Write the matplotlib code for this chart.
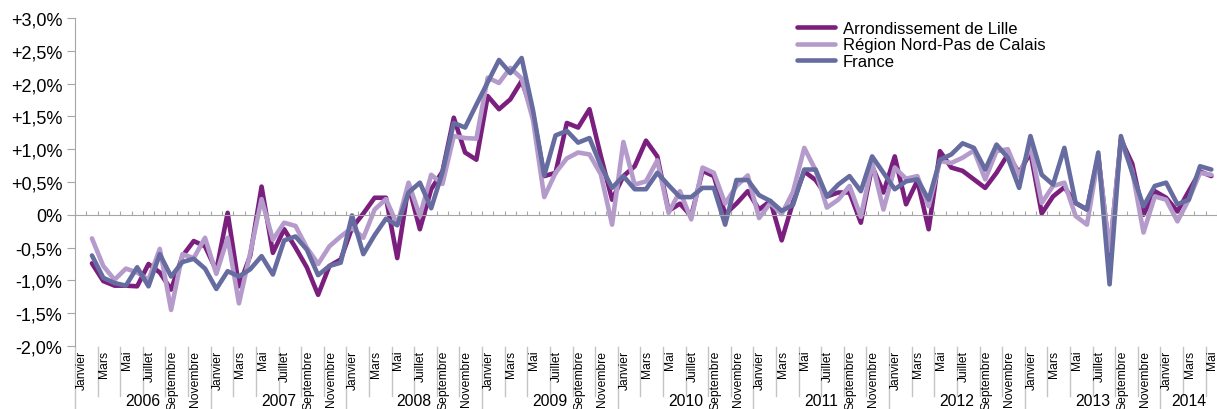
import numpy as np
import matplotlib

matplotlib.use("Agg")
import matplotlib.pyplot as plt
import matplotlib.transforms as mtransforms

# monthly change, Feb 2006 .. May 2014 (%)
lille = [-0.74, -1.01, -1.08, -1.08, -1.09, -0.75, -0.88, -1.14, -0.63, -0.40,
         -0.48, -0.85, 0.03, -1.09, -0.62, 0.43, -0.58, -0.22, -0.50, -0.80,
         -1.22, -0.78, -0.68, -0.20, 0.02, 0.26, 0.26, -0.66, 0.44, -0.22,
         0.39, 0.66, 1.48, 0.95, 0.84, 1.81, 1.61, 1.76, 2.04, 1.55,
         0.59, 0.64, 1.40, 1.33, 1.61, 0.90, 0.23, 0.59, 0.74, 1.13,
         0.89, 0.06, 0.17, -0.02, 0.67, 0.59, 0.01, 0.17, 0.36, 0.08,
         0.21, -0.39, 0.19, 0.66, 0.53, 0.28, 0.34, 0.34, -0.12, 0.74,
         0.34, 0.89, 0.16, 0.52, -0.22, 0.97, 0.72, 0.67, 0.54, 0.41,
         0.64, 0.92, 0.64, 0.95, 0.02, 0.28, 0.42, 0.18, 0.08, 0.90,
         -0.60, 1.15, 0.78, 0.00, 0.36, 0.26, 0.05, 0.36, 0.66, 0.59]
region = [-0.36, -0.78, -0.99, -0.82, -0.88, -0.99, -0.52, -1.45, -0.60, -0.66,
          -0.35, -0.90, -0.35, -1.35, -0.58, 0.24, -0.38, -0.12, -0.17, -0.50,
          -0.75, -0.48, -0.33, -0.20, -0.35, 0.08, 0.24, -0.15, 0.49, -0.02,
          0.61, 0.47, 1.20, 1.17, 1.16, 2.09, 2.01, 2.24, 2.08, 1.45,
          0.27, 0.64, 0.86, 0.95, 0.92, 0.62, -0.15, 1.11, 0.46, 0.51,
          0.83, 0.03, 0.36, -0.07, 0.72, 0.64, 0.17, 0.44, 0.60, -0.05,
          0.18, 0.01, 0.35, 1.02, 0.68, 0.11, 0.23, 0.44, -0.03, 0.79,
          0.08, 0.72, 0.55, 0.59, 0.13, 0.82, 0.79, 0.87, 0.98, 0.54,
          0.97, 1.00, 0.59, 1.05, 0.18, 0.44, 0.49, -0.02, -0.15, 0.87,
          -0.55, 1.12, 0.67, -0.27, 0.28, 0.23, -0.10, 0.23, 0.64, 0.61]
france = [-0.62, -0.96, -1.04, -1.08, -0.80, -1.09, -0.60, -0.94, -0.72, -0.67,
          -0.82, -1.13, -0.86, -0.94, -0.83, -0.63, -0.91, -0.39, -0.33, -0.53,
          -0.92, -0.78, -0.73, -0.01, -0.60, -0.31, -0.06, -0.16, 0.34, 0.49,
          0.10, 0.65, 1.40, 1.33, 1.68, 2.02, 2.36, 2.16, 2.39, 1.60,
          0.60, 1.21, 1.28, 1.10, 1.17, 0.75, 0.41, 0.59, 0.39, 0.39,
          0.64, 0.45, 0.27, 0.27, 0.41, 0.41, -0.15, 0.53, 0.53, 0.30,
          0.21, 0.06, 0.15, 0.69, 0.69, 0.28, 0.46, 0.59, 0.36, 0.89,
          0.64, 0.39, 0.51, 0.54, 0.23, 0.84, 0.92, 1.09, 1.02, 0.69,
          1.07, 0.87, 0.41, 1.20, 0.61, 0.46, 1.02, 0.18, 0.08, 0.95,
          -1.06, 1.20, 0.64, 0.13, 0.44, 0.49, 0.16, 0.23, 0.74, 0.69]

series_names = ["Arrondissement de Lille", "Région Nord-Pas de Calais", "France"]
years = [2006, 2007, 2008, 2009, 2010, 2011, 2012, 2013, 2014]
month_labels = ["Janvier", "Mars", "Mai", "Juillet", "Septembre", "Novembre"]
y_ticks = [-2.0, -1.5, -1.0, -0.5, 0.0, 0.5, 1.0, 1.5, 2.0, 2.5, 3.0]
y_ticklabels = ["-2,0%", "-1,5%", "-1,0%", "-0,5%", "0%", "+0,5%", "+1,0%",
                "+1,5%", "+2,0%", "+2,5%", "+3,0%"]

colors = ["#7b1f7f", "#b59bcb", "#666ca0"]
GRID = "#a6a6a6"
SEP = "#c4c4c4"
N_MONTHS = 101  # Jan 2006 .. May 2014 inclusive

plt.rcParams["font.family"] = ["Liberation Sans", "DejaVu Sans"]

fig = plt.figure(figsize=(12.17, 4.10), dpi=100)
W, H = 1217, 410
ax = fig.add_axes([75 / W, 1 - 347 / H, 1 - 75 / W, (347 - 19) / H])

x = np.arange(1, len(lille) + 1) + 0.5
for vals, col, name in zip([lille, region, france], colors, series_names):
    ax.plot(x, vals, color=col, lw=3.3, label=name,
            solid_joinstyle="round", solid_capstyle="round")

ax.set_xlim(0, N_MONTHS)
ax.set_ylim(-2.0, 3.0)
ax.set_yticks(y_ticks, y_ticklabels)
ax.tick_params(axis="y", length=6, color=GRID, pad=3, labelsize=13)

# category axis sits on the zero line, monthly ticks pointing up
ax.spines["bottom"].set_position(("data", 0))
ax.spines["bottom"].set_color(GRID)
ax.spines["left"].set_color(GRID)
for s in ["top", "right"]:
    ax.spines[s].set_visible(False)
ax.set_xticks(np.arange(0, N_MONTHS + 1))
ax.tick_params(axis="x", direction="in", length=3, color=GRID, labelbottom=False)

# month / year labels under the plot area
trans = mtransforms.blended_transform_factory(ax.transData, ax.transAxes)
for k in range(0, N_MONTHS, 2):
    yr, m = divmod(k, 12)
    ax.text(k + 0.6, -0.011, month_labels[m // 2], rotation=90, ha="center",
            va="top", fontsize=8.7, transform=trans, clip_on=False)
for k in range(0, N_MONTHS + 1, 2):
    bottom = -0.2 if k % 12 == 0 else -0.153
    top = 0 if k == 0 else -0.004
    ax.plot([k, k], [top, bottom], color=SEP, lw=1.0, transform=trans, clip_on=False)
for j, yr in enumerate(years):
    start = j * 12
    end = min(start + 12, N_MONTHS)
    ax.text((start + end) / 2, -0.19, str(yr), ha="center", va="bottom",
            fontsize=11.3, transform=trans, clip_on=False)

leg = ax.legend(loc="upper left", bbox_to_anchor=(797 / W, 1 - 22 / H),
                bbox_transform=fig.transFigure, frameon=False, borderpad=0,
                borderaxespad=0, labelspacing=0.08, handlelength=2.3,
                handletextpad=0.45,
                prop={"family": ["Liberation Sans Narrow", "Liberation Sans"], "size": 12})

fig.savefig("out.png", dpi=100)
